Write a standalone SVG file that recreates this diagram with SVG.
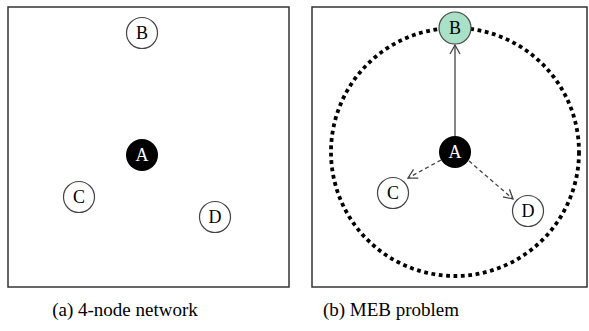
<svg xmlns="http://www.w3.org/2000/svg" width="589" height="331" viewBox="0 0 589 331">
<style>
.frame{fill:none;stroke:#333;stroke-width:1.5}
.node{stroke:#444;stroke-width:1.2}
.lbl{font-family:"Liberation Serif","Times New Roman",serif;font-size:18px;text-anchor:middle;fill:#000}
.dark .lbl{fill:#fff}
.cap{font-family:"Liberation Serif","Times New Roman",serif;font-size:19px;text-anchor:middle;fill:#000}
.edge{stroke:#444;stroke-width:1.3;fill:none}
.dash{stroke-dasharray:4 3}
</style>
<defs>
<marker id="arr" markerWidth="12" markerHeight="12" refX="10" refY="6" orient="auto" markerUnits="userSpaceOnUse">
<path d="M1,1 L10,6 L1,11" fill="none" stroke="#444" stroke-width="1.3"/>
</marker>
</defs>
<rect class="frame" x="8" y="7" width="281" height="280"/>
<rect class="frame" x="312" y="7" width="275" height="280"/>
<circle cx="455" cy="152" r="124" fill="none" stroke="#000" stroke-width="3.8" stroke-dasharray="3.8 3.6"/>
<g id="connectors">
<line class="edge" x1="455" y1="136" x2="455" y2="45" marker-end="url(#arr)"/>
<line class="edge dash" x1="441" y1="160" x2="408" y2="178" marker-end="url(#arr)"/>
<line class="edge dash" x1="469" y1="161" x2="513" y2="199" marker-end="url(#arr)"/>
</g>
<g id="a-B"><circle class="node" cx="142" cy="33" r="15.5" fill="#fff"/><text class="lbl" x="142" y="39">B</text></g>
<g id="a-A" class="dark"><circle cx="142" cy="155" r="16" fill="#000"/><text class="lbl" x="142" y="161">A</text></g>
<g id="a-C"><circle class="node" cx="79" cy="197" r="15.5" fill="#fff"/><text class="lbl" x="79" y="203">C</text></g>
<g id="a-D"><circle class="node" cx="215" cy="217" r="15.5" fill="#fff"/><text class="lbl" x="215" y="223">D</text></g>
<g id="b-B"><circle class="node" cx="455" cy="28" r="16" fill="#a8e0c8"/><text class="lbl" x="455" y="34">B</text></g>
<g id="b-A" class="dark"><circle cx="455" cy="152" r="16" fill="#000"/><text class="lbl" x="455" y="158">A</text></g>
<g id="b-C"><circle class="node" cx="393" cy="193" r="15.5" fill="#fff"/><text class="lbl" x="393" y="199">C</text></g>
<g id="b-D"><circle class="node" cx="528" cy="211" r="15.5" fill="#fff"/><text class="lbl" x="528" y="217">D</text></g>
<text class="cap" x="125" y="316">(a) 4-node network</text>
<text class="cap" x="391" y="316">(b) MEB problem</text>
</svg>
